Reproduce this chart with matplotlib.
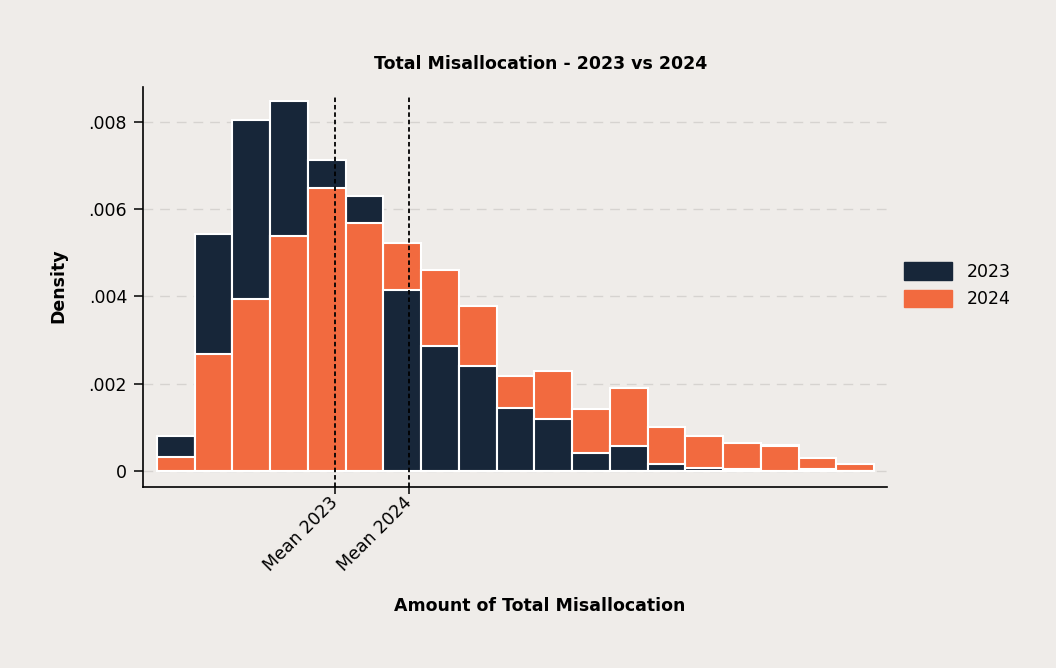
import matplotlib
matplotlib.use("Agg")
import matplotlib.pyplot as plt
import numpy as np

plt.rcParams['font.family'] = ['DejaVu Sans']

# density per bin (19 equal-width bins)
dens_2023 = [0.00081, 0.00543, 0.00803, 0.00848, 0.00713, 0.00631, 0.00414,
             0.00287, 0.00241, 0.00144, 0.00119, 0.00042, 0.00057, 0.00017,
             0.00007, 0.00005, 0.00060, 0.00005, 0.0]
dens_2024 = [0.00031, 0.00268, 0.00394, 0.00539, 0.00649, 0.00567, 0.00522,
             0.00461, 0.00379, 0.00217, 0.00230, 0.00141, 0.00189, 0.00100,
             0.00079, 0.00064, 0.00057, 0.00030, 0.00017]
mean_2023 = 4.72   # in bin units
mean_2024 = 6.68
yticks = [0, 0.002, 0.004, 0.006, 0.008]
ytick_labels = ['0', '.002', '.004', '.006', '.008']

bg = '#EFECE9'
navy = '#172639'
orange = '#F26A3F'
fs = 12.5

fig = plt.figure(figsize=(10.56, 6.68), dpi=100, facecolor=bg)
ax = fig.add_axes([0.1354, 0.271, 0.7046, 0.599], facecolor=bg)

d23 = np.array(dens_2023)
d24 = np.array(dens_2024)
x = np.arange(len(d23))
hi = np.maximum(d23, d24)
lo = np.minimum(d23, d24)
hi_col = [navy if a >= b else orange for a, b in zip(d23, d24)]
lo_col = [orange if a >= b else navy for a, b in zip(d23, d24)]

ax.bar(x, hi, width=1, align='edge', color=hi_col, edgecolor='white', linewidth=1.5, zorder=2)
ax.bar(x, lo, width=1, align='edge', color=lo_col, edgecolor='white', linewidth=1.5, zorder=3)

ax.axvline(mean_2023, ymax=0.98, color='black', linestyle=(0, (2.5, 1.6)), linewidth=1.3, zorder=4)
ax.axvline(mean_2024, ymax=0.98, color='black', linestyle=(0, (2.5, 1.6)), linewidth=1.3, zorder=4)

ax.set_xlim(-0.37, 19.34)
ax.set_ylim(-0.000367, 0.0088)
ax.set_yticks(yticks, ytick_labels, fontsize=fs)
ax.set_xticks([mean_2023, mean_2024], ['Mean 2023', 'Mean 2024'], fontsize=fs,
              rotation=45, ha='right', va='center', rotation_mode='anchor')
ax.tick_params(axis='y', length=6.5, width=1.1, pad=5)
ax.tick_params(axis='x', length=5, width=1.1, pad=4)
ax.grid(axis='y', color='#D6D3D0', linestyle=(0, (7, 5)), linewidth=1, zorder=0)
ax.set_axisbelow(True)

for s in ['top', 'right']:
    ax.spines[s].set_visible(False)
for s in ['left', 'bottom']:
    ax.spines[s].set_linewidth(1.2)

fig.text(0.512, 0.904, 'Total Misallocation - 2023 vs 2024', ha='center', va='center',
         fontsize=fs, fontweight='bold')
fig.text(0.511, 0.093, 'Amount of Total Misallocation', ha='center', va='center',
         fontsize=fs, fontweight='bold')
fig.text(0.055, 0.573, 'Density', ha='center', va='center', rotation=90,
         fontsize=fs, fontweight='bold')

h1 = plt.Rectangle((0, 0), 1, 1, color=navy)
h2 = plt.Rectangle((0, 0), 1, 1, color=orange)
fig.legend([h1, h2], ['2023', '2024'], loc='center left', bbox_to_anchor=(0.856, 0.573),
           frameon=False, fontsize=fs, handlelength=2.75, handleheight=1.2,
           labelspacing=0.5, handletextpad=0.85, borderpad=0, borderaxespad=0)

fig.savefig('out.png', dpi=100, facecolor=bg)
